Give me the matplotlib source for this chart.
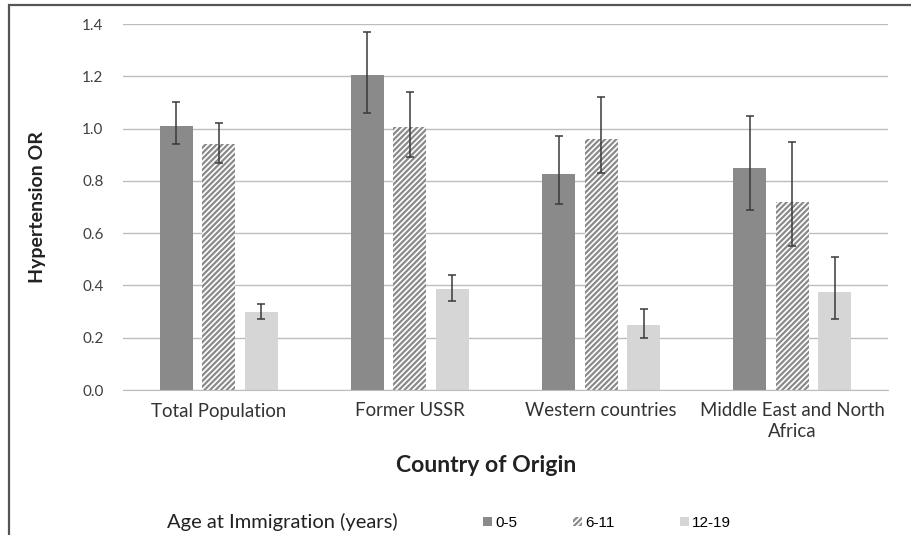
import numpy as np
import matplotlib.pyplot as plt
from matplotlib.patches import Rectangle

plt.rcParams['font.family'] = ['Lato', 'DejaVu Sans']
plt.rcParams['hatch.linewidth'] = 1.6

categories = ['Total Population', 'Former USSR', 'Western countries', 'Middle East and North\nAfrica']
groups = ['0-5', '6-11', '12-19']
or_05 = [1.01, 1.205, 0.825, 0.85]
lo_05 = [0.94, 1.06, 0.71, 0.69]
hi_05 = [1.10, 1.37, 0.97, 1.05]
or_611 = [0.94, 1.005, 0.96, 0.72]
lo_611 = [0.87, 0.89, 0.83, 0.55]
hi_611 = [1.02, 1.14, 1.12, 0.95]
or_1219 = [0.30, 0.385, 0.25, 0.375]
lo_1219 = [0.27, 0.34, 0.20, 0.27]
hi_1219 = [0.33, 0.44, 0.31, 0.51]

W, H = 912, 535
fig = plt.figure(figsize=(W / 100, H / 100), dpi=100)
ax = fig.add_axes([123 / W, 1 - 390 / H, (888 - 123) / W, (390 - 24) / H])

x = np.arange(len(categories))
w = 0.173
step = 0.222
series = [(or_05, lo_05, hi_05), (or_611, lo_611, hi_611), (or_1219, lo_1219, hi_1219)]
styles = [dict(color='#8a8a8a'),
          dict(facecolor='white', edgecolor='#8a8a8a', hatch='//////', linewidth=0),
          dict(color='#d6d6d6')]
handles = []
for i, ((v, lo, hi), st) in enumerate(zip(series, styles)):
    v = np.array(v)
    pos = x + (i - 1) * step
    b = ax.bar(pos, v, w, zorder=2, **st)
    handles.append(b)
    yerr = [v - np.array(lo), np.array(hi) - v]
    ax.errorbar(pos, v, yerr=yerr, fmt='none', ecolor='#3a3a3a', elinewidth=1.1,
                capsize=3, capthick=1.1, zorder=3)

ax.set_xlim(-0.5, 3.5)
ax.set_ylim(0, 1.4)
yt = np.arange(0, 1.41, 0.2)
ax.set_yticks(yt)
ax.set_yticklabels([f'{t:.1f}' for t in yt], fontsize=11, color='#404040')
ax.set_xticks(x)
ax.set_xticklabels(categories, fontsize=13.4, color='#333333', linespacing=1.25)
ax.tick_params(axis='x', length=0, pad=9)
ax.tick_params(axis='y', length=0, pad=14)
ax.grid(axis='y', color='#bdbdbd', linewidth=1, zorder=0)
for s in ['top', 'right', 'left']:
    ax.spines[s].set_visible(False)
ax.spines['bottom'].set_color('#bdbdbd')
ax.set_ylabel('Hypertension OR', fontsize=14, fontweight='bold', labelpad=26, color='#222222')

fig.text(486 / W, 1 - 466 / H, 'Country of Origin', fontsize=16.6, fontweight='bold',
         color='#222222', ha='center', va='center')
fig.text(167 / W, 1 - 522 / H, 'Age at Immigration (years)', fontsize=14.5,
         color='#222222', va='center')

# legend entries placed one by one, like the reference
for h, lab, xs in zip(handles, groups, [483, 573, 680]):
    fig.legend([h], [lab], loc='center left', bbox_to_anchor=(xs / W, 1 - 523 / H),
               frameon=False, fontsize=11, handlelength=0.6, handleheight=0.6,
               handletextpad=0.2, borderpad=0, borderaxespad=0,
               prop={'family': 'Liberation Sans', 'size': 11})

fig.patches.append(Rectangle((9 / W, -0.1), 1.2, 1.1 - 5 / H, transform=fig.transFigure,
                             fill=False, edgecolor='#555555', linewidth=1.6))

fig.savefig('out.png', dpi=100)
